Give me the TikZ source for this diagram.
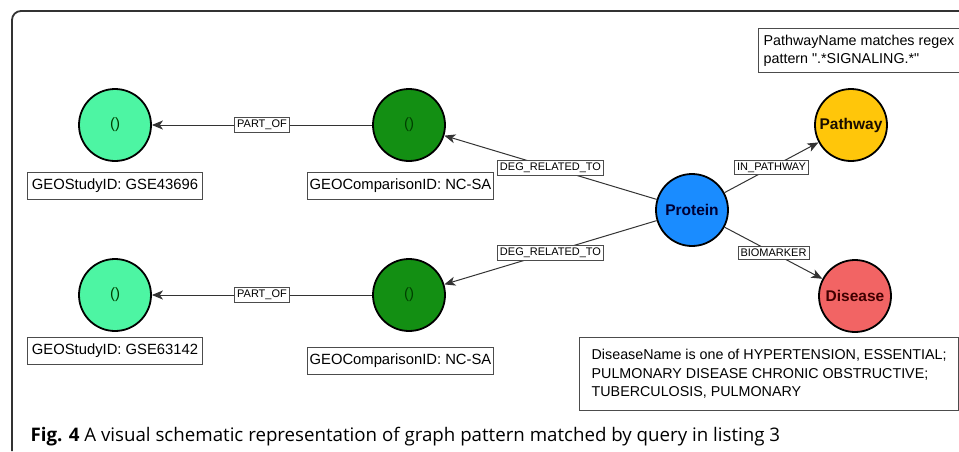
\documentclass[tikz,border=0pt]{standalone}
\usepackage{fontspec}
\setmainfont{Liberation Sans}
\newfontfamily\notefont{Liberation Sans}
\newfontfamily\capfont{Open Sans}
\usetikzlibrary{positioning,arrows.meta}
\definecolor{studygreen}{HTML}{4DF5A3}
\definecolor{compgreen}{HTML}{138F13}
\definecolor{proteinblue}{HTML}{1A8CFF}
\definecolor{pathyellow}{HTML}{FFC60A}
\definecolor{diseasered}{HTML}{F26464}
\tikzset{
  entity/.style={circle, draw=black, line width=1.8pt, minimum size=72pt, inner sep=0pt,
    font=\fontsize{15.5}{18}\selectfont\bfseries},
  empty/.style={entity, font=\fontsize{15}{18}\selectfont, text=black!75!green},
  tag/.style={draw=black!70, line width=1pt, fill=white, minimum height=27pt, inner sep=2pt,
    font=\fontsize{14.8}{17}\selectfont},
  rel/.style={draw=black!80, line width=1pt, -{Stealth[length=11pt,width=9pt,inset=3pt]}},
  rellabel/.style={draw=black!70, fill=white, line width=0.8pt, inner sep=2.5pt,
    font=\fontsize{11}{12}\selectfont},
  note/.style={draw=black!70, line width=1.3pt, align=left, anchor=north west,
    font=\notefont\fontsize{14.3}{18.5}\selectfont}
}

\begin{document}
\begin{tikzpicture}[x=1pt, y=-1pt]
    \useasboundingbox (0,0) rectangle (959,451);
    \draw[line width=1.8pt, black!80, rounded corners=9pt] (12,451) |- (959,11);

    \node[empty, fill=studygreen] (study1) at (115,125) {()};
    \node[empty, fill=compgreen] (comp1) at (409,125) {()};
    \node[empty, fill=studygreen] (study2) at (115,295) {()};
    \node[empty, fill=compgreen] (comp2) at (409,295) {()};
    \node[entity, fill=proteinblue, text=black!80!blue] (protein) at (692,210) {Protein};
    \node[entity, fill=pathyellow, text=black!90!orange] (pathway) at (851,125) {Pathway};
    \node[entity, fill=diseasered, text=black!75!red] (disease) at (855,296) {Disease};

    \node[tag, minimum width=175pt, below=10pt of study1] (study1id) {GEOStudyID: GSE43696};
    \node[tag, minimum width=183pt, below=10pt of comp1, xshift=-8.5pt] (comp1id) {GEOComparisonID: NC-SA};
    \node[tag, minimum width=175pt, below=5pt of study2] (study2id) {GEOStudyID: GSE63142};
    \node[tag, minimum width=183pt, below=15pt of comp2, xshift=-8.5pt] (comp2id) {GEOComparisonID: NC-SA};

    \node[note, minimum width=197pt, minimum height=44pt, inner xsep=5pt] (pathnote) at (758,28)
      {PathwayName matches regex\\pattern ".*SIGNALING.*"};
    \node[note, minimum width=379pt, minimum height=73pt, inner xsep=12pt] (disnote) at (579,337)
      {DiseaseName is one of HYPERTENSION, ESSENTIAL;\\PULMONARY DISEASE CHRONIC OBSTRUCTIVE;\\TUBERCULOSIS, PULMONARY};

    \draw[rel] (comp1) -- node[rellabel] {PART\_OF} (study1);
    \draw[rel] (comp2) -- node[rellabel] {PART\_OF} (study2);
    \draw[rel] (protein) -- node[rellabel] {DEG\_RELATED\_TO} (comp1);
    \draw[rel] (protein) -- node[rellabel] {DEG\_RELATED\_TO} (comp2);
    \draw[rel] (protein) -- node[rellabel] {IN\_PATHWAY} (pathway);
    \draw[rel] (protein) -- node[rellabel] {BIOMARKER} (disease);

    \node[anchor=base west, font=\capfont\fontsize{18.7}{22}\selectfont] (caption) at (27,441)
      {\textbf{Fig. 4} A visual schematic representation of graph pattern matched by query in listing 3};
\end{tikzpicture}
\end{document}
